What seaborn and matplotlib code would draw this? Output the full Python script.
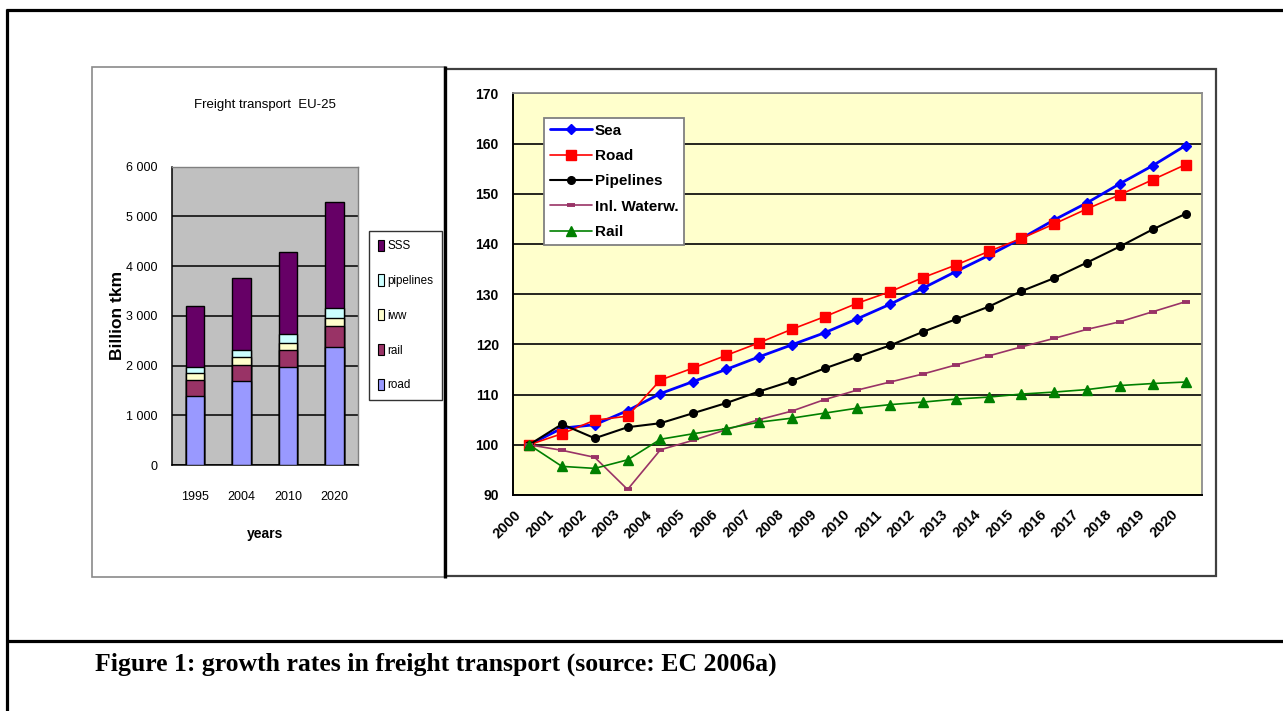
import matplotlib
matplotlib.use("Agg")
import matplotlib.pyplot as plt
import matplotlib.transforms as mtransforms
import seaborn as sns
import numpy as np
from matplotlib import font_manager
from matplotlib.lines import Line2D
from matplotlib.patches import Rectangle

# ---- left panel: freight volume by mode (billion tkm), stacked ----
bar_years = ["1995", "2004", "2010", "2020"]
road_tkm = [1390, 1680, 1970, 2370]
rail_tkm = [310, 340, 340, 430]
iww_tkm = [150, 160, 150, 150]
pipelines_tkm = [120, 130, 180, 200]
sss_tkm = [1230, 1460, 1640, 2140]
bar_yticks = [0, 1000, 2000, 3000, 4000, 5000, 6000]
bar_yticklabels = ["0", "1 000", "2 000", "3 000", "4 000", "5 000", "6 000"]

# ---- right panel: growth index, 2000 = 100 ----
years = [str(y) for y in range(2000, 2021)]
sea_idx = [100, 103.3, 104.0, 106.8, 110.2, 112.6, 115.0, 117.5, 119.9, 122.3,
           125.1, 128.0, 131.2, 134.5, 137.7, 141.1, 144.8, 148.2, 152.0, 155.6, 159.6]
road_idx = [100, 102.2, 104.9, 105.7, 112.9, 115.3, 117.8, 120.3, 123.0, 125.5,
            128.2, 130.5, 133.3, 135.8, 138.5, 141.1, 144.0, 147.0, 149.8, 152.8, 155.8]
pipe_idx = [100, 104.1, 101.3, 103.5, 104.3, 106.3, 108.3, 110.6, 112.7, 115.2,
            117.5, 119.8, 122.5, 125.0, 127.5, 130.6, 133.2, 136.3, 139.5, 142.9, 146.0]
waterw_idx = [100, 98.9, 97.5, 91.1, 99.0, 100.9, 103.0, 105.0, 106.7, 109.0,
              110.9, 112.5, 114.1, 115.9, 117.7, 119.5, 121.2, 123.0, 124.5, 126.5, 128.5]
rail_idx = [100, 95.7, 95.3, 97.0, 101.1, 102.2, 103.2, 104.5, 105.3, 106.3,
            107.3, 108.0, 108.5, 109.1, 109.5, 110.1, 110.5, 111.0, 111.8, 112.2, 112.5]
line_yticks = [90, 100, 110, 120, 130, 140, 150, 160, 170]

sns.set_theme(style="white")
installed = {f.name for f in font_manager.fontManager.ttflist}
sans = "Liberation Sans" if "Liberation Sans" in installed else "DejaVu Sans"
serif = "Liberation Serif" if "Liberation Serif" in installed else "DejaVu Serif"
plt.rcParams["font.family"] = [sans, "DejaVu Sans"]
plt.rcParams.update({"text.color": "black", "axes.labelcolor": "black",
                     "xtick.color": "black", "ytick.color": "black"})

W, H = 1283, 711
fig = plt.figure(figsize=(W / 100, H / 100), dpi=100)
fig.patch.set_facecolor("white")


def fx(x):
    return x / W


def fy(y):
    return 1 - y / H


def ax_rect(x0, y0, x1, y1):
    return [fx(x0), fy(y1), fx(x1) - fx(x0), fy(y0) - fy(y1)]


# ================= left: stacked bars =================
axL = fig.add_axes(ax_rect(171.7, 166.7, 357.7, 465))
axL.set_facecolor("#C0C0C0")
layers = [
    ("SSS", "#660066"),
    ("pipelines", "#CCFFFF"),
    ("iww", "#FFFFCC"),
    ("rail", "#993366"),
    ("road", "#9999FF"),
]
# cumulative tops, drawn from the tallest down so each segment shows
stack = np.cumsum(np.array([road_tkm, rail_tkm, iww_tkm, pipelines_tkm, sss_tkm]), axis=0)
tops = {"road": stack[0], "rail": stack[1], "iww": stack[2],
        "pipelines": stack[3], "SSS": stack[4]}
for name, col in layers:
    sns.barplot(x=bar_years, y=tops[name], color=col, saturation=1, width=0.39,
                edgecolor="black", linewidth=1.0, ax=axL, zorder=3)

axL.set_xlim(-0.5, 3.5)
axL.set_ylim(0, 6000)
axL.set_yticks(bar_yticks)
axL.set_yticklabels(bar_yticklabels, fontsize=9)
axL.set_xticks(range(4))
axL.set_xticklabels(bar_years, fontsize=9)
axL.set_xticks(np.arange(-0.5, 4.0, 1.0), minor=True)
axL.tick_params(axis="x", which="major", length=0, pad=19)
axL.tick_params(axis="x", which="minor", length=5, width=1, color="black", direction="out")
axL.tick_params(axis="y", length=5, width=1, color="black", direction="out", pad=5)
axL.yaxis.grid(True, color="black", linewidth=1.1)
axL.set_axisbelow(True)
for s in ["top", "right"]:
    axL.spines[s].set_color("#808080")
    axL.spines[s].set_linewidth(1)
for s in ["left", "bottom"]:
    axL.spines[s].set_color("black")
    axL.spines[s].set_linewidth(1.1)
axL.set_xlabel("years", fontweight="bold", fontsize=10, labelpad=17)
axL.set_ylabel("Billion tkm", fontweight="bold", fontsize=12.5, labelpad=1)
axL.set_title("Freight transport  EU-25", fontsize=9.5, pad=42)

# legend of the bar panel
handlesL = [Rectangle((0, 0), 1, 1, facecolor=c, edgecolor="black", linewidth=0.8)
            for _, c in layers]
legL = axL.legend(handlesL, [n for n, _ in layers], loc="upper left",
                  bbox_to_anchor=(fx(369), fy(231)), bbox_transform=fig.transFigure,
                  prop={"size": 8.4}, frameon=True, fancybox=False,
                  edgecolor="black", handlelength=0.55, handleheight=1.1,
                  handletextpad=0.3, labelspacing=1.9, borderpad=0.75,
                  borderaxespad=0)
legL.get_frame().set_linewidth(1)

# ================= right: index lines =================
axR = fig.add_axes(ax_rect(512.7, 93.3, 1202, 495))
axR.set_facecolor("#FFFFCC")
xi = np.arange(len(years))
series = [
    ("Sea", sea_idx, "#0000FF", "D", 5, 2.0, 1.0),
    ("Road", road_idx, "#FF0000", "s", 7, 1.2, 1.0),
    ("Pipelines", pipe_idx, "#000000", "o", 5.5, 1.5, 1.0),
    ("Inl. Waterw.", waterw_idx, "#993366", "_", 6, 1.2, 2.8),
    ("Rail", rail_idx, "#008000", "^", 6.5, 1.2, 1.0),
]
for name, vals, col, mk, ms, lw, mew in series:
    sns.lineplot(x=xi, y=vals, color=col, marker=mk, markersize=ms,
                 markeredgecolor=col, markerfacecolor=col, markeredgewidth=mew,
                 linewidth=lw, label=name, ax=axR, zorder=4)

axR.set_xlim(-0.5, len(years) - 0.5)
axR.set_ylim(90, 170)
axR.set_yticks(line_yticks)
axR.set_yticklabels([str(v) for v in line_yticks], fontweight="bold", fontsize=10)
axR.set_xticks(xi)
axR.set_xticklabels(years, rotation=45, ha="right", rotation_mode="anchor",
                    fontweight="bold", fontsize=10.5)
axR.set_xticks(np.arange(-0.5, len(years)), minor=True)
axR.tick_params(axis="x", which="major", length=0, pad=9)
axR.tick_params(axis="x", which="minor", length=6, width=1.3, color="black", direction="out")
axR.tick_params(axis="y", length=6, width=1.3, color="black", direction="out", pad=4)
# year labels sit a little to the left of the point they name
shift = mtransforms.ScaledTranslation(-0.15, 0, fig.dpi_scale_trans)
for lab in axR.get_xticklabels():
    lab.set_transform(lab.get_transform() + shift)
axR.yaxis.grid(True, color="black", linewidth=1.2)
axR.xaxis.grid(False)
axR.set_axisbelow(True)
for s in ["top", "right"]:
    axR.spines[s].set_color("#8C8C8C")
    axR.spines[s].set_linewidth(1.3)
for s in ["left", "bottom"]:
    axR.spines[s].set_color("black")
    axR.spines[s].set_linewidth(1.4)
axR.set_xlabel("")
axR.set_ylabel("")

legR = axR.legend(loc="upper left", bbox_to_anchor=(fx(544.3), fy(117.7)),
                  bbox_transform=fig.transFigure, prop={"weight": "bold", "size": 11},
                  frameon=True, fancybox=False, edgecolor="#808080",
                  handlelength=2.7, handletextpad=0.2, labelspacing=0.74,
                  borderpad=0.4, borderaxespad=0, facecolor="white", framealpha=1)
legR.get_frame().set_linewidth(1.3)

# ================= page frame and panel boxes =================
def hline(y, x0, x1, lw, color="black"):
    fig.add_artist(Line2D([fx(x0), fx(x1)], [fy(y), fy(y)], transform=fig.transFigure,
                          color=color, linewidth=lw, solid_capstyle="butt"))


def vline(x, y0, y1, lw, color="black"):
    fig.add_artist(Line2D([fx(x), fx(x)], [fy(y0), fy(y1)], transform=fig.transFigure,
                          color=color, linewidth=lw, solid_capstyle="butt"))


hline(10, 6, W, 2.3)
vline(7, 9, H, 2.3)
hline(641, 6, W, 2.3)

# bar panel box
fig.add_artist(Rectangle((fx(92), fy(577)), fx(445) - fx(92), fy(67) - fy(577),
                         transform=fig.transFigure, fill=False,
                         edgecolor="#8A8A8A", linewidth=1.2))
# line panel box
fig.add_artist(Rectangle((fx(445), fy(576)), fx(1216) - fx(445), fy(69) - fy(576),
                         transform=fig.transFigure, fill=False,
                         edgecolor="#404040", linewidth=1.6))
vline(445, 66, 578, 2.4)

fig.text(fx(95), fy(664), "Figure 1: growth rates in freight transport (source: EC 2006a)",
         fontfamily=serif, fontweight="bold", fontsize=18.5, ha="left", va="center",
         color="black")

fig.savefig("out.png", dpi=100, facecolor="white")
